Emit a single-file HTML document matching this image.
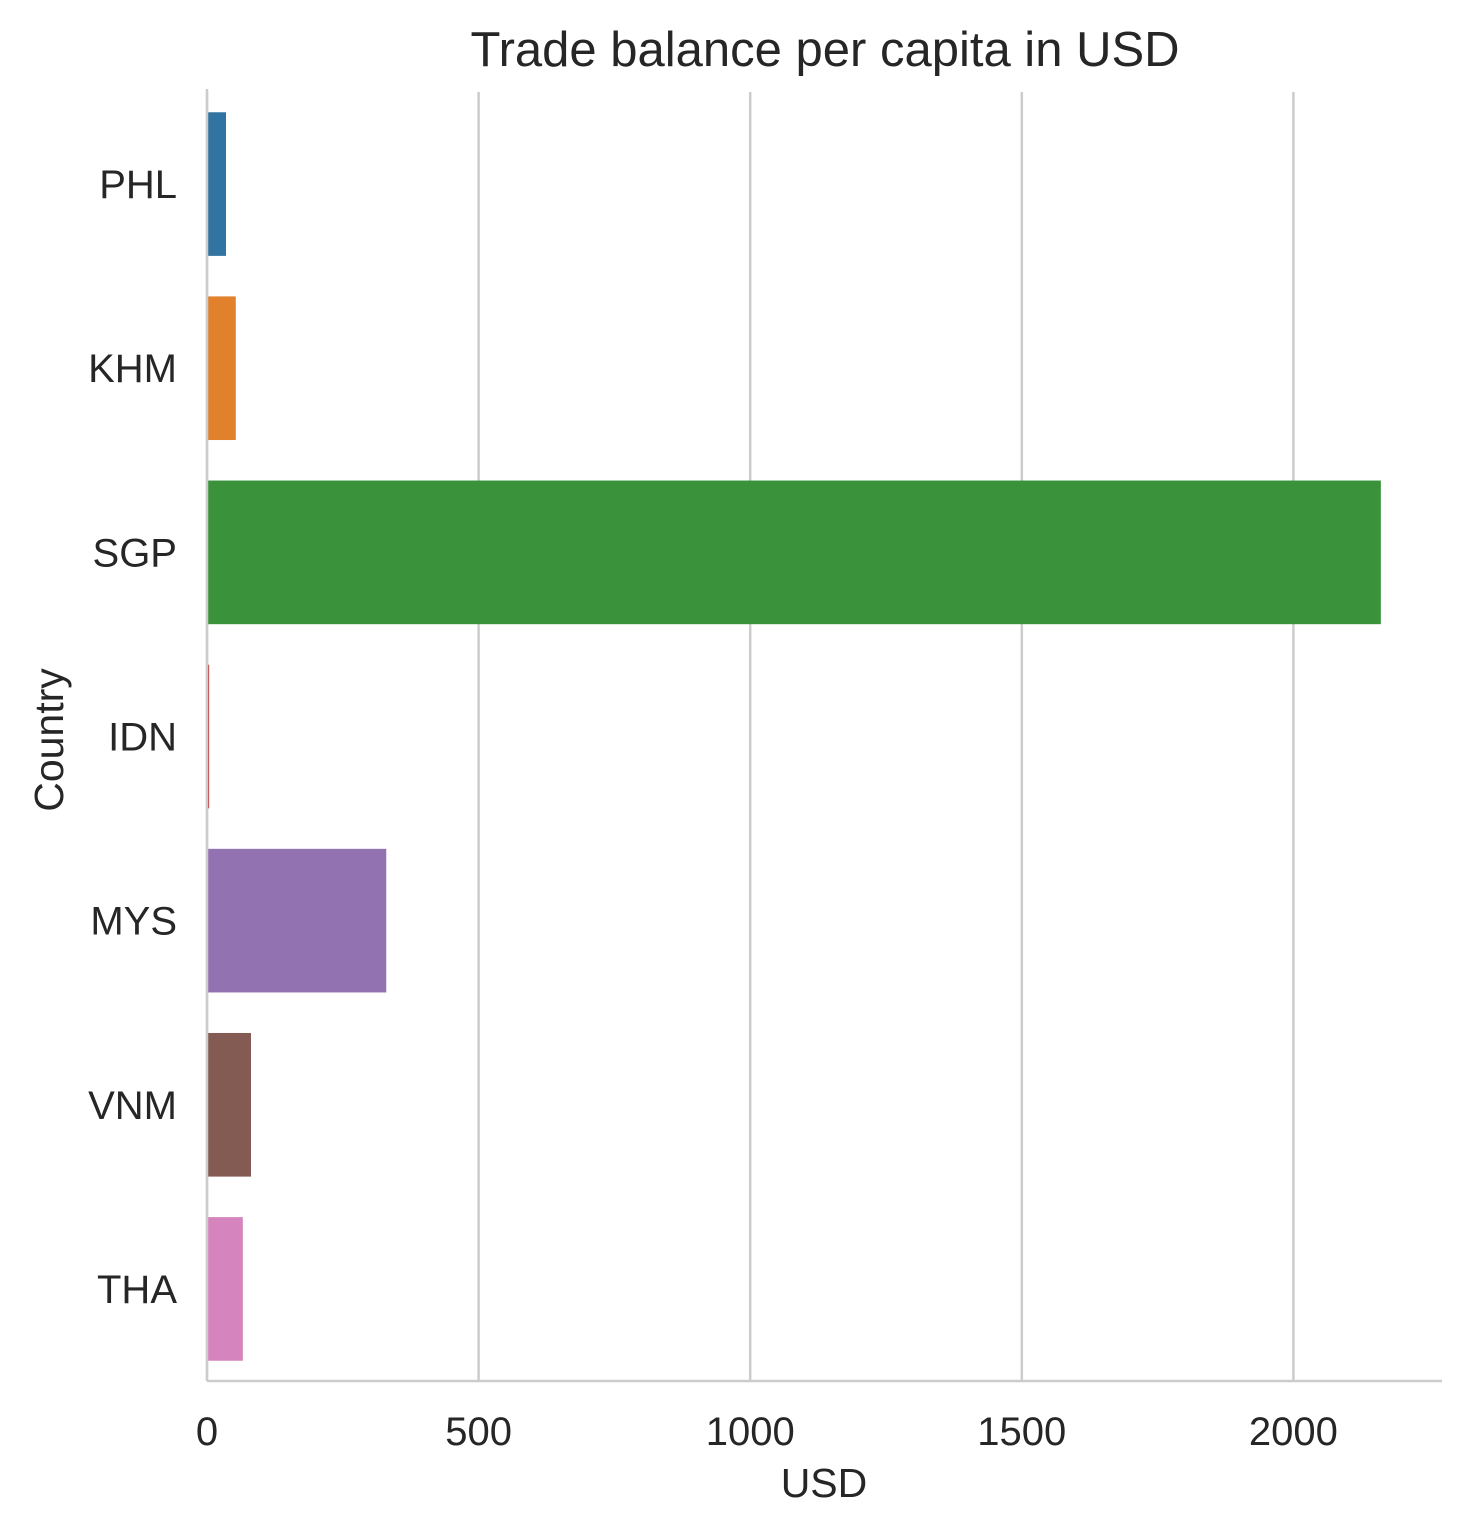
<!DOCTYPE html>
<html><head><meta charset="utf-8"><style>
body{margin:0;background:#fff;}
svg{font-family:"Liberation Sans",Arial,sans-serif;}
</style></head><body>
<svg id="chart" width="1471" height="1534">
<text x="825" y="66" text-anchor="middle" font-size="49" fill="#262626">Trade balance per capita in USD</text>
<g id="grid"></g><g id="bars"></g><g id="axes"></g>
<text x="824" y="1497" text-anchor="middle" font-size="41" fill="#262626">USD</text>
<text transform="translate(63,740) rotate(-90)" text-anchor="middle" font-size="41" fill="#262626">Country</text>
</svg>
<script>
const categories=["PHL","KHM","SGP","IDN","MYS","VNM","THA"];
const values=[35,53,2161,4,330,81,66];
const colors=["#3274a1","#e1812c","#3a923a","#c03d3e","#9372b2","#845b53","#d684bd"];
const xTicks=[0,500,1000,1500,2000];
const ns="http://www.w3.org/2000/svg";
const x0=207,xScale=0.5432,plotTop=92,plotBottom=1381,plotRight=1442;
const band=(plotBottom-plotTop)/categories.length;
const xs=v=>x0+v*xScale;
function mk(t,a,p){const e=document.createElementNS(ns,t);for(const k in a)e.setAttribute(k,a[k]);p.appendChild(e);return e;}
const grid=document.getElementById('grid'),bars=document.getElementById('bars'),axes=document.getElementById('axes');
xTicks.forEach(t=>{
 const l=mk('line',{x1:xs(t),x2:xs(t),y1:plotTop,y2:plotBottom,stroke:'#cccccc','stroke-width':2.5},grid);
 
 
 const tx=mk('text',{x:xs(t),y:1445,'text-anchor':'middle','font-size':40,fill:'#262626'},axes);
 tx.textContent=t;
 
 
});
categories.forEach((c,i)=>{
 const cy=plotTop+band*(i+0.5),h=band*0.78;
 const r=mk('rect',{x:x0,y:cy-h/2,width:Math.max(values[i]*xScale,1.5),height:h,fill:colors[i]},bars);
 
 
 const tx=mk('text',{x:177,y:cy+14,'text-anchor':'end','font-size':40,fill:'#262626'},axes);
 tx.textContent=c;
 
 
});
const ly=mk('line',{x1:x0,x2:x0,y1:plotTop-3,y2:plotBottom,stroke:'#cccccc','stroke-width':2.5},axes);


const lx=mk('line',{x1:x0,x2:plotRight,y1:plotBottom,y2:plotBottom,stroke:'#cccccc','stroke-width':2.5},axes);


</script>
</body></html>
